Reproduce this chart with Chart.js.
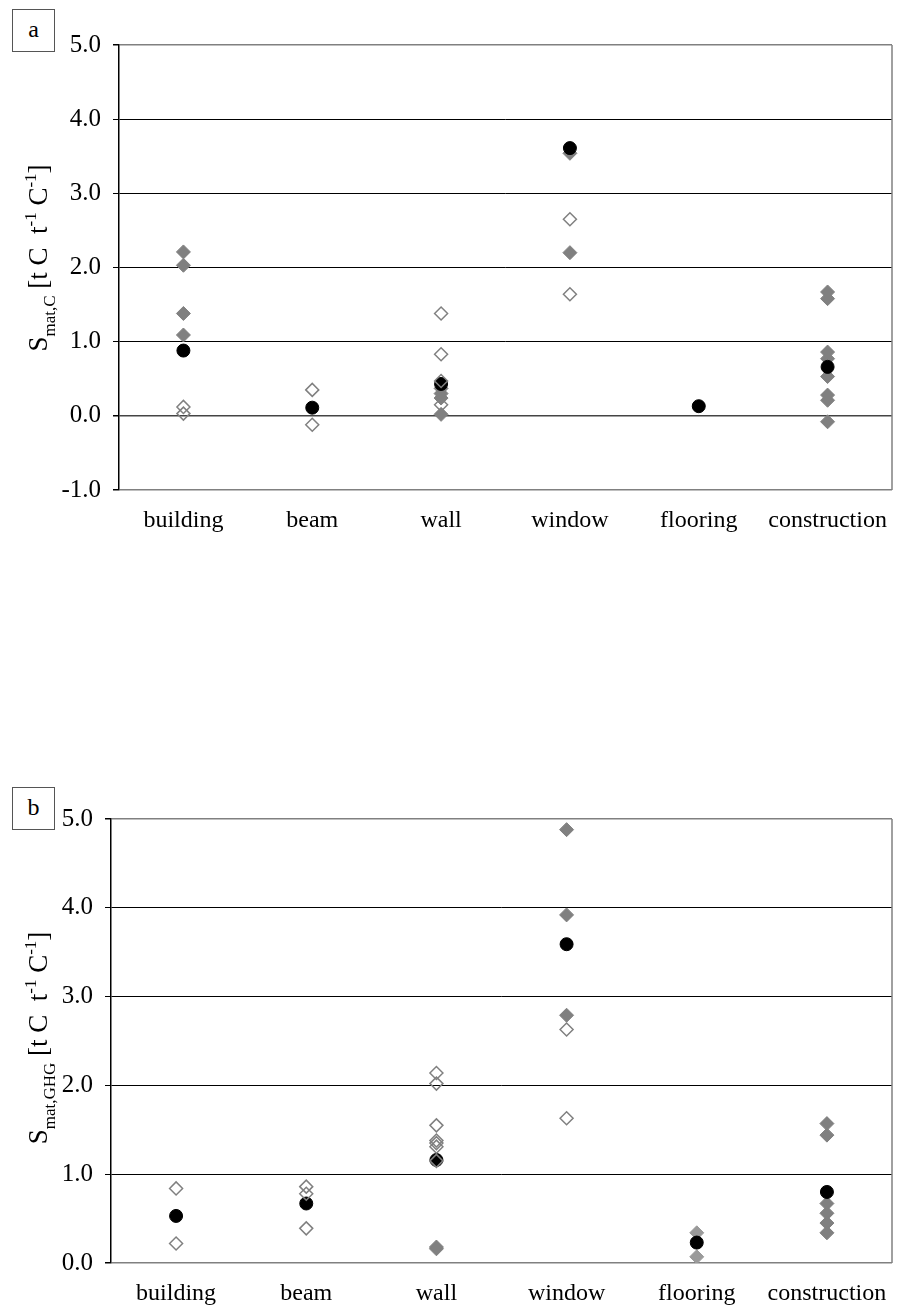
<!DOCTYPE html>
<html><head><meta charset="utf-8">
<script src="https://cdn.jsdelivr.net/npm/chart.js@4.4.1/dist/chart.umd.min.js"></script>
<style>
body{margin:0;background:#fff;width:901px;height:1314px;position:relative;overflow:hidden;font-family:"Liberation Serif",serif;}
canvas{position:absolute;left:0;}
.lbl{position:absolute;left:12px;width:43px;height:43px;border:1px solid #555;font-size:24px;line-height:38px;text-align:center;box-sizing:border-box;background:#fff;z-index:2;font-family:"Liberation Serif",serif;}
</style></head><body>
<canvas id="ca" width="901" height="540" style="top:0"></canvas>
<canvas id="cb" width="901" height="554" style="top:760px"></canvas>
<div class="lbl" style="top:9px">a</div>
<div class="lbl" style="top:787px">b</div>
<script>
const categories = ['building','beam','wall','window','flooring','construction'];

// Panel a: S_mat,C
const aFilled = [[2.21,2.03,1.38,1.09],[],[0.37,0.30,0.24,0.02],[3.54,2.20],[],[1.67,1.58,0.86,0.77,0.53,0.28,0.21,-0.08]];
const aOpen   = [[0.12,0.03],[0.35,-0.12],[1.38,0.83,0.47,0.15],[2.65,1.64],[],[]];
const aMean   = [0.88,0.11,0.43,3.61,0.13,0.66];
const aTicks  = [-1,0,1,2,3,4,5];

// Panel b: S_mat,GHG
const bFilled = [[],[],[0.18,0.16],[4.88,3.92,2.79],[0.34,0.07],[1.57,1.44,0.67,0.56,0.45,0.34]];
const bOpen   = [[0.84,0.22],[0.86,0.78,0.39],[2.14,2.02,1.55,1.38,1.35,1.31,1.15],[2.63,1.63],[],[]];
const bMean   = [0.53,0.67,1.16,3.59,0.23,0.80];
const bTicks  = [0,1,2,3,4,5];

function toPoints(arr){const out=[];arr.forEach((vals,i)=>vals.forEach(v=>out.push({x:categories[i],y:v})));return out;}
function meanPoints(arr){return arr.map((v,i)=>({x:categories[i],y:v}));}

const FONT = '"Liberation Serif", "Times New Roman", serif';

function yTitlePlugin(sub, cx, cy){
  return {id:'ytitle'+sub, afterDraw(chart){
    const ctx=chart.ctx; ctx.save(); ctx.translate(cx,cy); ctx.rotate(-Math.PI/2);
    const segs=[{t:'S',s:27,dy:0},{t:sub,s:17,dy:8},{t:' [t C  t',s:27,dy:0},{t:'-1',s:17,dy:-11},{t:' C',s:27,dy:0},{t:'-1',s:17,dy:-11},{t:']',s:27,dy:0}];
    let total=0; segs.forEach(g=>{ctx.font=g.s+'px '+FONT; g.w=ctx.measureText(g.t).width; total+=g.w;});
    let x=-total/2; ctx.fillStyle='#000'; ctx.textBaseline='alphabetic';
    segs.forEach(g=>{ctx.font=g.s+'px '+FONT; ctx.fillText(g.t,x,g.dy); x+=g.w;});
    ctx.restore();
  }};
}
const rightBorder = {id:'rb', afterDatasetsDraw(chart){
  const a=chart.chartArea, ctx=chart.ctx; ctx.save(); ctx.strokeStyle='#808080'; ctx.lineWidth=1.5;
  ctx.beginPath(); ctx.moveTo(a.right, a.top); ctx.lineTo(a.right, a.bottom); ctx.stroke(); ctx.restore();
}};

function makeChart(id, filled, open, mean, ticks, yWidth, padTop, xHeight, plugins, lightIdx){
  const min=ticks[0], max=ticks[ticks.length-1];
  return new Chart(document.getElementById(id), {
    type:'line',
    data:{labels:categories, datasets:[
      {data:toPoints(open), showLine:false, pointStyle:'rectRot', pointRadius:6.5, pointBackgroundColor:'rgba(255,255,255,0)', pointBorderColor:'#808080', pointBorderWidth:1.5, order:0},
      {data:meanPoints(mean), showLine:false, pointStyle:'circle', pointRadius:6.5, pointBackgroundColor:'#000', pointBorderColor:'#000', pointBorderWidth:1, order:1},
      {data:toPoints(filled), showLine:false, pointStyle:'rectRot', pointRadius:7,
        pointBackgroundColor:(c)=> (c.raw && c.raw.x===lightIdx) ? '#9a9a9a' : '#808080',
        pointBorderColor:(c)=> (c.raw && c.raw.x===lightIdx) ? '#9a9a9a' : '#808080', pointBorderWidth:1, order:2}
    ]},
    options:{
      responsive:false, animation:false, events:[],
      layout:{padding:{top:padTop, right:9, left:0, bottom:0}},
      plugins:{legend:{display:false}, tooltip:{enabled:false}},
      scales:{
        x:{type:'category', offset:true, grid:{display:false, drawTicks:false}, border:{display:false},
           ticks:{color:'#000', font:{family:FONT, size:24}, padding:16, maxRotation:0, autoSkip:false},
           afterFit:(s)=>{s.height=xHeight; s.paddingRight=0; s.paddingLeft=0;}},
        y:{min:min, max:max, afterBuildTicks:(s)=>{s.ticks=ticks.map(v=>({value:v}));},
           grid:{color:(c)=> (c.tick && (c.tick.value===max||c.tick.value===min)) ? '#808080' : (c.tick && c.tick.value===0 ? '#444' : '#000'),
                 lineWidth:(c)=> (c.tick && (c.tick.value===max||c.tick.value===min||c.tick.value===0)) ? 1.5 : 1,
                 tickColor:'#000', tickLength:6, drawTicks:true},
           border:{display:true, color:'#000', width:1.5},
           ticks:{color:'#000', font:{family:FONT, size:25}, padding:12, callback:(v)=>Number(v).toFixed(1)},
           afterFit:(s)=>{s.width=yWidth;}}
      }
    },
    plugins:[rightBorder].concat(plugins)
  });
}

makeChart('ca', aFilled, aOpen, aMean, aTicks, 119, 45, 50, [yTitlePlugin('mat,C', 47, 258)], null);
makeChart('cb', bFilled, bOpen, bMean, bTicks, 111, 59, 51, [yTitlePlugin('mat,GHG', 47, 278)], 'flooring');
</script>
</body></html>
